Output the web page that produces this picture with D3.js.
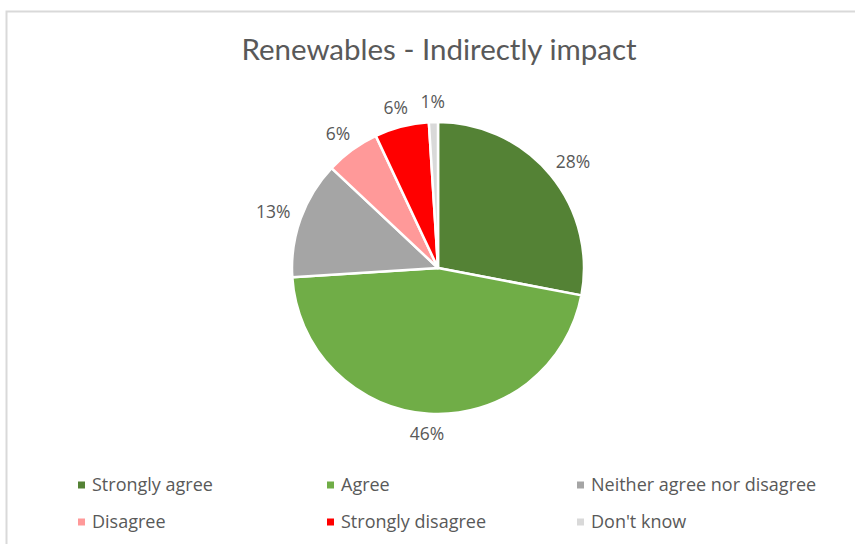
<!DOCTYPE html>
<html>
<head>
<meta charset="utf-8">
<script src="https://cdn.jsdelivr.net/npm/d3@7"></script>
<style>
  html, body { margin: 0; padding: 0; background: #fff; }
  svg { display: block; }
</style>
</head>
<body>
<svg id="chart" width="855" height="544"></svg>
<script>
// Survey answers: share of respondents (%)
const categories = ["Strongly agree", "Agree", "Neither agree nor disagree", "Disagree", "Strongly disagree", "Don't know"];
const values = [28, 46, 13, 6, 6, 1];
const labels = ["28%", "46%", "13%", "6%", "6%", "1%"];
const colors = ["#548235", "#70AD47", "#A5A5A5", "#FF9999", "#FF0000", "#D9D9D9"];
const title = "Renewables - Indirectly impact";

const svg = d3.select("#chart");
const W = 855, H = 544;
const cx = 438, cy = 268, r = 146;
const textColor = "#595959";

// chart area frame
svg.append("rect")
  .attr("x", 6.5).attr("y", 11.5)
  .attr("width", W + 20).attr("height", H + 20)
  .attr("fill", "#fff")
  .attr("stroke", "#d9d9d9").attr("stroke-width", 2);

// title
svg.append("text")
  .attr("x", 439).attr("y", 60)
  .attr("text-anchor", "middle")
  .attr("font-family", "Lato, 'Open Sans', sans-serif")
  .attr("font-size", 29.5)
  .attr("fill", textColor)
  .text(title);

const data = categories.map((c, i) => ({ cat: c, value: values[i], label: labels[i], color: colors[i] }));

const pie = d3.pie().value(d => d.value).sort(null);
const arc = d3.arc().innerRadius(0).outerRadius(r);
const arcs = pie(data);

const g = svg.append("g").attr("transform", `translate(${cx},${cy})`);

g.selectAll("path.slice")
  .data(arcs)
  .join("path")
  .attr("class", "slice")
  .attr("d", arc)
  .attr("fill", d => d.data.color)
  .attr("stroke", "#fff")
  .attr("stroke-width", 2.5)
  .attr("stroke-linejoin", "round");

// value labels, placed just outside each slice
const labelFont = "'Open Sans', sans-serif";
const labelSize = 17.5;
const lbl = g.selectAll("text.val")
  .data(arcs)
  .join("text")
  .attr("class", "val")
  .attr("font-family", labelFont)
  .attr("font-size", labelSize)
  .attr("fill", textColor)
  .attr("text-anchor", "middle")
  .text(d => d.data.label);

lbl.each(function(d) {
  const a = (d.startAngle + d.endAngle) / 2;
  const s = Math.sin(a), c = -Math.cos(a);
  const w = this.getComputedTextLength();
  const h = labelSize;
  const R = r + 10;
  const x = R * s + (w / 2 + 2) * s;
  const y = R * c + (h / 2 + 1) * c;
  d3.select(this).attr("x", x).attr("y", y + h * 0.35);
});

// legend: three columns, two rows
const legendFont = "'Open Sans', sans-serif";
const colX = [78, 327, 577];
const rowY = [485, 522];
const leg = svg.append("g");
data.forEach((d, i) => {
  const col = i % 3, row = Math.floor(i / 3);
  const item = leg.append("g").attr("transform", `translate(${colX[col]},${rowY[row]})`);
  item.append("rect")
    .attr("x", 0).attr("y", -3.5)
    .attr("width", 7).attr("height", 7)
    .attr("fill", d.color);
  item.append("text")
    .attr("x", 14).attr("y", 6)
    .attr("font-family", legendFont)
    .attr("font-size", 18)
    .attr("fill", textColor)
    .text(d.cat);
});
</script>
</body>
</html>
